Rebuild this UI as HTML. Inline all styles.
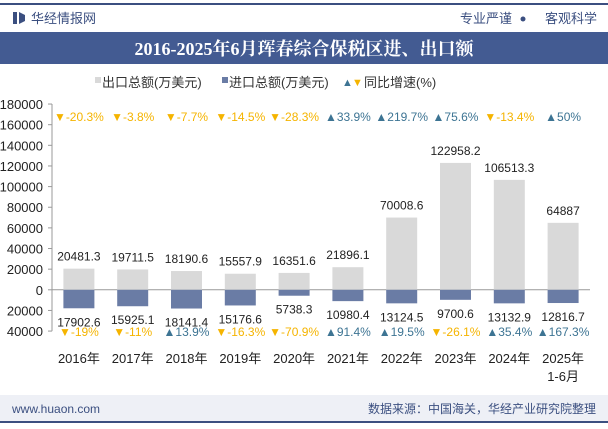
<!DOCTYPE html>
<html><head><meta charset="utf-8">
<style>
body{margin:0;width:608px;height:424px;overflow:hidden;background:#fff;font-family:"Liberation Sans","Noto Sans CJK SC",sans-serif;}
svg text{font-family:"Liberation Sans","Noto Sans CJK SC",sans-serif;}
svg text.serif{font-family:"Liberation Serif","Noto Serif CJK SC",serif;}
</style></head><body>
<svg id="c" width="608" height="424" xmlns="http://www.w3.org/2000/svg">
<rect x="0" y="3" width="608" height="2" fill="#3b4f80"/>
<rect x="13" y="12" width="4" height="12" fill="#3b4f80"/>
<polygon points="19,12 25,15 25,21 19,24" fill="#3b4f80"/>
<text x="31" y="23" font-size="13" fill="#3b4f80">华经情报网</text>
<text x="512" y="23" font-size="13" fill="#3b4f80" text-anchor="end">专业严谨</text>
<circle cx="523" cy="19" r="2.5" fill="#3b4f80"/>
<text x="597" y="23" font-size="13" fill="#3b4f80" text-anchor="end">客观科学</text>
<rect x="0" y="32" width="608" height="32" fill="#435b92"/>
<text class="serif" x="304" y="55" font-size="18" font-weight="bold" fill="#fff" text-anchor="middle">2016-2025年6月珲春综合保税区进、出口额</text>
<g>
<rect x="95" y="77" width="6" height="6" fill="#d9d9d9"/>
<text x="102" y="87" font-size="13" fill="#333">出口总额(万美元)</text>
<rect x="222" y="77" width="6" height="6" fill="#6a7ca5"/>
<text x="229" y="87" font-size="13" fill="#333">进口总额(万美元)</text>
<text x="342" y="86" font-size="11" fill="#3d7493">▲</text>
<text x="352" y="86" font-size="11" fill="#f5b400">▼</text>
<text x="364" y="87" font-size="13" fill="#333">同比增速(%)</text>
</g>
<g id="plot"></g>
<rect x="0" y="395" width="608" height="26" fill="#eef0f6"/>
<text x="12" y="413" font-size="12" fill="#3b4f80">www.huaon.com</text>
<text x="596" y="413" font-size="12" fill="#3b4f80" text-anchor="end">数据来源：中国海关，华经产业研究院整理</text>
<rect x="0" y="421" width="608" height="2" fill="#3b4f80"/>
</svg>
<script>
const categories=["2016年","2017年","2018年","2019年","2020年","2021年","2022年","2023年","2024年","2025年"];
const exportVals=[20481.3,19711.5,18190.6,15557.9,16351.6,21896.1,70008.6,122958.2,106513.3,64887];
const importVals=[17902.6,15925.1,18141.4,15176.6,5738.3,10980.4,13124.5,9700.6,13132.9,12816.7];
const exportGrowth=[-20.3,-3.8,-7.7,-14.5,-28.3,33.9,219.7,75.6,-13.4,50];
const importGrowth=[-19,-11,13.9,-16.3,-70.9,91.4,19.5,-26.1,35.4,167.3];
const yTicks=[180000,160000,140000,120000,100000,80000,60000,40000,20000,0,-20000,-40000];
const NS="http://www.w3.org/2000/svg";
const g=document.getElementById('plot');
const x0=52,x1=590,step=(x1-x0)/categories.length,bw=31;
const y=v=>289.8-v*0.001032;
const xc=i=>x0+step*(i+0.5);
function mk(t,a,txt){const e=document.createElementNS(NS,t);for(const k in a)e.setAttribute(k,a[k]);if(txt!=null)e.textContent=txt;g.appendChild(e);return e;}
let e=mk('line',{x1:x0,x2:x0,y1:y(180000),y2:y(-40000),stroke:'#999'});


e=mk('line',{x1:x0,x2:x1,y1:y(0),y2:y(0),stroke:'#999'});


yTicks.forEach(v=>{
 const t=mk('text',{x:43,y:y(v)+5,'font-size':13,fill:'#222','text-anchor':'end'},String(Math.abs(v)));
 
 
 const l=mk('line',{x1:x0-4,x2:x0,y1:y(v),y2:y(v),stroke:'#999'});
 
 
});
categories.forEach((c,i)=>{
 const cx=xc(i);
 let r=mk('rect',{x:cx-bw/2,y:y(exportVals[i]),width:bw,height:y(0)-y(exportVals[i]),fill:'#d9d9d9'});
 
 
 r=mk('rect',{x:cx-bw/2,y:y(0),width:bw,height:y(-importVals[i])-y(0),fill:'#6a7ca5'});
 
 
 let t=mk('text',{x:cx,y:y(exportVals[i])-8,'font-size':12,fill:'#222','text-anchor':'middle'},String(exportVals[i]));
 
 
 t=mk('text',{x:cx,y:y(-importVals[i])+18,'font-size':12,fill:'#222','text-anchor':'middle'},String(importVals[i]));
 
 
 const eg=exportGrowth[i];
 t=mk('text',{x:cx,y:121,'font-size':12,fill:eg<0?'#f5b400':'#3d7493','text-anchor':'middle'},(eg<0?'▼':'▲')+eg+'%');
 
 
 const ig=importGrowth[i];
 t=mk('text',{x:cx,y:336,'font-size':12,fill:ig<0?'#f5b400':'#3d7493','text-anchor':'middle'},(ig<0?'▼':'▲')+ig+'%');
 
 
 t=mk('text',{x:cx,y:363,'font-size':13,fill:'#222','text-anchor':'middle'},c);
 
 
});
e=mk('text',{x:xc(9),y:381,'font-size':13,fill:'#222','text-anchor':'middle'},'1-6月');


</script>
</body></html>
